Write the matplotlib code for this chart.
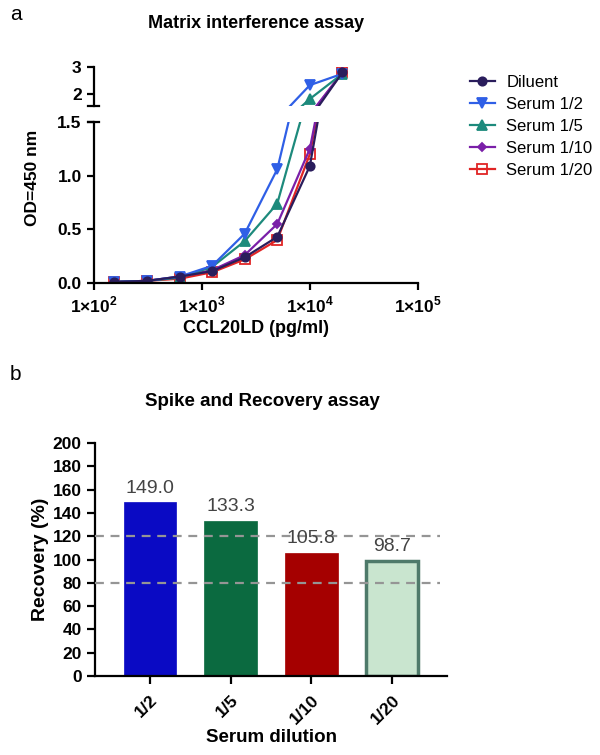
import matplotlib
matplotlib.use("Agg")
import matplotlib.pyplot as plt
from matplotlib.lines import Line2D

plt.rcParams['font.family'] = ['Liberation Sans', 'DejaVu Sans']
plt.rcParams['mathtext.fontset'] = 'custom'
plt.rcParams['mathtext.rm'] = 'Liberation Sans:bold'
plt.rcParams['mathtext.bf'] = 'Liberation Sans:bold'

# ---------------- data ----------------
conc = [156.25, 312.5, 625, 1250, 2500, 5000, 10000, 20000]
series_names = ["Diluent", "Serum 1/2", "Serum 1/5", "Serum 1/10", "Serum 1/20"]
od_diluent = [0.01, 0.02, 0.06, 0.11, 0.24, 0.43, 1.09, 2.80]
od_serum_2 = [0.01, 0.02, 0.06, 0.16, 0.46, 1.06, 2.33, 2.75]
od_serum_5 = [0.01, 0.02, 0.05, 0.15, 0.39, 0.74, 1.82, 2.75]
od_serum_10 = [0.01, 0.02, 0.06, 0.12, 0.26, 0.55, 1.25, 2.80]
od_serum_20 = [0.01, 0.02, 0.04, 0.10, 0.22, 0.40, 1.20, 2.80]

dilutions = ["1/2", "1/5", "1/10", "1/20"]
recovery = [149.0, 133.3, 105.8, 98.7]
ref_lines = [80, 120]

# ---------------- styles ----------------
styles = [
    dict(color="#2a1d5c", marker="o", mfc="#2a1d5c", ms=6),
    dict(color="#2f5fe6", marker="v", mfc="#2f5fe6", ms=6.5),
    dict(color="#1d8a7c", marker="^", mfc="#1d8a7c", ms=6.5),
    dict(color="#7a1fa8", marker="D", mfc="#7a1fa8", ms=4.5),
    dict(color="#e02424", marker="s", mfc="none", ms=6.5),
]
series = [od_diluent, od_serum_2, od_serum_5, od_serum_10, od_serum_20]

fig = plt.figure(figsize=(6.0, 7.55), dpi=100)

def px2fig(x0, y0, x1, y1):
    W, H = 600.0, 755.0
    return [x0 / W, 1 - y1 / H, (x1 - x0) / W, (y1 - y0) / H]

ax_lo = fig.add_axes(px2fig(93.5, 122, 418, 283))
ax_hi = fig.add_axes(px2fig(93.5, 67, 418, 106), sharex=ax_lo)

handles = []
for i in reversed(range(len(series))):
    st = styles[i]
    for ax in (ax_lo, ax_hi):
        ax.plot(conc, series[i], color=st["color"], lw=1.6, marker=st["marker"],
                mfc=st["mfc"], mec=st["color"], ms=st["ms"], mew=1.3)
for i in range(len(series)):
    st = styles[i]
    handles.append(Line2D([], [], color=st["color"], lw=1.6, marker=st["marker"],
                          mfc=st["mfc"], mec=st["color"], ms=st["ms"], mew=1.3))

for ax in (ax_lo, ax_hi):
    ax.set_xscale("log")
    for s in ("top", "right"):
        ax.spines[s].set_visible(False)
    ax.spines["left"].set_linewidth(1.6)
    ax.tick_params(axis="both", which="major", width=1.6, length=5,
                   labelsize=12.5)
    ax.tick_params(axis="both", which="minor", length=0)

ax_lo.set_xlim(100, 1e5)
ax_lo.set_ylim(0, 1.5)
ax_lo.set_yticks([0.0, 0.5, 1.0, 1.5])
ax_lo.set_yticklabels(["0.0", "0.5", "1.0", "1.5"], fontweight="bold")
ax_lo.spines["bottom"].set_linewidth(1.6)
ax_lo.set_xticks([1e2, 1e3, 1e4, 1e5])
ax_lo.set_xticklabels([r"1×10$^{2}$", r"1×10$^{3}$", r"1×10$^{4}$", r"1×10$^{5}$"],
                      fontweight="bold", fontsize=12.5)
ax_lo.set_xlabel("CCL20LD (pg/ml)", fontsize=13, fontweight="bold", labelpad=3)
ax_lo.set_ylabel("OD=450 nm", fontsize=12.5, fontweight="bold")
ax_lo.yaxis.set_label_coords(-0.165, 0.65)

ax_hi.set_ylim(1.56, 3.0)
ax_hi.set_yticks([2, 3])
ax_hi.set_yticklabels(["2", "3"], fontweight="bold")
ax_hi.spines["bottom"].set_visible(False)
ax_hi.tick_params(axis="x", which="both", bottom=False, labelbottom=False)

# break caps
ax_hi.plot([-0.018, 0.018], [0, 0], transform=ax_hi.transAxes, color="black",
           lw=1.6, clip_on=False)
ax_lo.plot([-0.018, 0.018], [1, 1], transform=ax_lo.transAxes, color="black",
           lw=1.6, clip_on=False)

fig.text(256 / 600, 1 - 23 / 755, "Matrix interference assay", ha="center",
         va="center", fontsize=13, fontweight="bold")
fig.text(10 / 600, 1 - 15 / 755, "a", ha="left", va="center", fontsize=15)

fig.legend(handles=handles, labels=series_names, loc="upper left",
           bbox_to_anchor=(458 / 600, 1 - 63 / 755), frameon=False,
           fontsize=12, labelspacing=0.42, handlelength=1.5,
           handletextpad=0.7, borderaxespad=0.3)

# ---------------- panel b ----------------
axb = fig.add_axes(px2fig(95, 443, 447, 676))
bar_colors = ["#0a0ac4", "#0b6a40", "#a50000", "#c9e5cf"]
edge_colors = ["#0a0ac4", "#0b6a40", "#a50000", "#4e7a6a"]
edge_widths = [0.5, 0.5, 0.5, 2.5]
xpos = list(range(len(dilutions)))
bars = axb.bar(xpos, recovery, width=0.65, color=bar_colors,
               edgecolor=edge_colors, linewidth=edge_widths, zorder=2)
for y in ref_lines:
    axb.axhline(y, xmin=0.0, xmax=0.98, color="#959595", lw=1.6,
                ls=(0, (4, 3)), zorder=3)
for b, v in zip(bars, recovery):
    axb.annotate(f"{v:.1f}", (b.get_x() + b.get_width() / 2, v),
                 xytext=(0, 4), textcoords="offset points", ha="center",
                 va="bottom", fontsize=14, color="#444444", zorder=4)

axb.set_xlim(-0.68, 3.68)
axb.set_ylim(0, 200)
axb.set_yticks(range(0, 201, 20))
axb.set_xticks(xpos)
axb.set_xticklabels(dilutions, rotation=45, ha="right", rotation_mode="anchor",
                    fontweight="bold")
for lab in axb.get_yticklabels():
    lab.set_fontweight("bold")
for s in ("top", "right"):
    axb.spines[s].set_visible(False)
for s in ("left", "bottom"):
    axb.spines[s].set_linewidth(1.6)
axb.tick_params(axis="both", width=1.6, length=6, labelsize=12.5)
axb.tick_params(axis="x", pad=6)
axb.set_ylabel("Recovery (%)", fontsize=14, fontweight="bold", labelpad=3)
axb.set_xlabel("Serum dilution", fontsize=13.5, fontweight="bold", labelpad=1)

fig.text(262 / 600, 1 - 401 / 755, "Spike and Recovery assay", ha="center",
         va="center", fontsize=13.5, fontweight="bold")
fig.text(10 / 600, 1 - 375 / 755, "b", ha="left", va="center", fontsize=15)

fig.savefig("out.png", dpi=100)
